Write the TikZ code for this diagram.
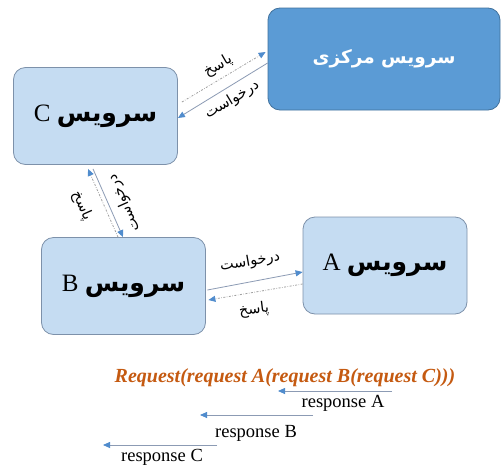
\documentclass[tikz,border=0pt]{standalone}
\usepackage{fontspec}
\setmainfont{Liberation Serif}
\newfontfamily\arabicfont[Script=Arabic]{DejaVu Sans}
\TeXXeTstate=1
\usetikzlibrary{arrows.meta}

\definecolor{boxfill}{RGB}{197,220,242}
\definecolor{boxline}{RGB}{125,145,170}
\definecolor{hubfill}{RGB}{91,155,213}
\definecolor{hubline}{RGB}{65,113,156}
\definecolor{tipblue}{RGB}{80,140,205}
\definecolor{wire}{RGB}{140,155,180}
\definecolor{dotwire}{RGB}{160,160,160}
\definecolor{callorange}{RGB}{197,90,17}

\tikzset{
    svc/.style={draw=boxline, fill=boxfill, rounded corners=12pt, line width=0.8pt,
        minimum width=164pt, minimum height=97pt},
    hub/.style={draw=hubline, fill=hubfill, rounded corners=12pt, line width=0.8pt,
        minimum width=232pt, minimum height=102pt},
    req/.style={draw=wire, line width=0.8pt, -{Triangle[length=7pt, width=6pt, color=tipblue]}},
    resp/.style={draw=dotwire, line width=0.8pt, dash pattern=on 2pt off 1.5pt on 0.6pt off 1.5pt,
        -{Triangle[length=7pt, width=6pt, color=tipblue]}},
    back/.style={draw=wire, line width=0.8pt, -{Triangle[length=7pt, width=6pt, color=tipblue]}},
    lbl/.style={font=\arabicfont\fontsize{14.5}{15}\selectfont, inner sep=0pt},
    plain/.style={font=\fontsize{18.5}{19}\selectfont, inner sep=0pt},
}

\newcommand{\svcname}[1]{\fontsize{25}{26}\selectfont\beginR{\arabicfont\bfseries سرویس} #1\endR}
\newcommand{\fa}[1]{\beginR #1\endR}

\begin{document}
\begin{tikzpicture}[x=1pt, y=-1pt]

    \path [use as bounding box, fill=white] (0,0) rectangle (503,466);

    % Services
    \node [hub] (hub) at (384,59)
        {\color{white}\arabicfont\bfseries\fontsize{18.5}{20}\selectfont\fa{سرویس مرکزی}};
    \node [svc] (svcC) at (95.5,116) {\svcname{C}};
    \node [svc] (svcB) at (123.5,286) {\svcname{B}};
    \node [svc] (svcA) at (385,265.5) {\svcname{A}};

    % Central <-> C
    \draw [req] ([yshift=-4pt]hub.west) -- ([yshift=-2pt]svcC.east);
    \draw [resp] ([shift={(4pt,14pt)}]svcC.east) -- ([shift={(-2pt,7pt)}]hub.west);
    \node [lbl, rotate=30] (ansHC) at (218,66) {\fa{پاسخ}};
    \node [lbl, rotate=31] (askHC) at (232,100) {\fa{درخواست}};

    % C <-> B
    \draw [req] ([shift={(-2.5pt,-4pt)}]svcC.south) -- ([xshift=-0.5pt]svcB.north);
    \draw [resp] ([xshift=-5.5pt]svcB.north) -- ([shift={(-7.5pt,-4pt)}]svcC.south);
    \node [lbl, rotate=-66] (ansCB) at (82,206) {\fa{پاسخ}};
    \node [lbl, rotate=114] (askCB) at (124,203) {\fa{درخواست}};

    % B <-> A
    \draw [req] ([shift={(1.5pt,-4pt)}]svcB.east) -- ([yshift=-6.5pt]svcA.west);
    \draw [resp] ([yshift=-18.5pt]svcA.west) -- ([shift={(2.5pt,-14pt)}]svcB.east);
    \node [lbl, rotate=10] (askBA) at (250,262) {\fa{درخواست}};
    \node [lbl, rotate=7] (ansBA) at (254,310) {\fa{پاسخ}};

    % Call chain
    \node [font=\bfseries\itshape\fontsize{20}{22}\selectfont, text=callorange, inner sep=0pt]
        (call) at (285,378) {Request(request A(request B(request C)))};

    \coordinate (rAstart) at (392,391);
    \coordinate (rAend) at (278,391);
    \coordinate (rBstart) at (313,415);
    \coordinate (rBend) at (200,415);
    \coordinate (rCstart) at (217,445);
    \coordinate (rCend) at (103,445);

    \draw [back] (rAstart) -- (rAend);
    \draw [back] (rBstart) -- (rBend);
    \draw [back] (rCstart) -- (rCend);
    \node [plain] (respA) at (343,403) {response A};
    \node [plain] (respB) at (256,433) {response B};
    \node [plain] (respC) at (162,457) {response C};

\end{tikzpicture}
\end{document}
